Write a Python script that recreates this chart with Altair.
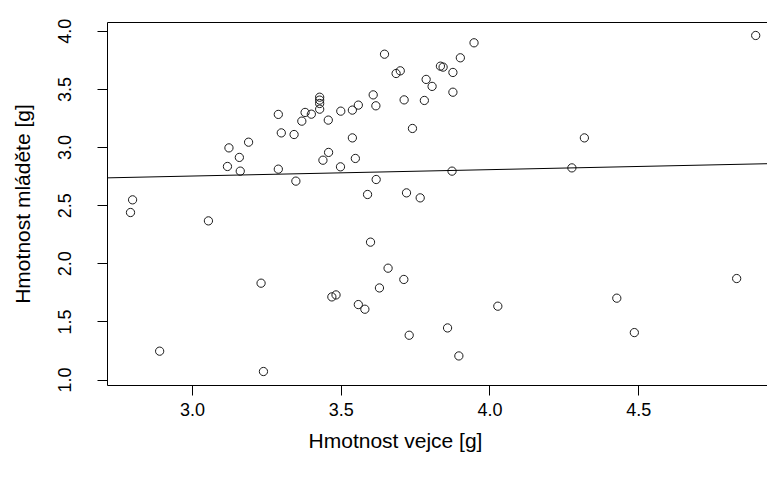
import altair as alt
import pandas as pd

# Egg weight [g] (x) and chick weight [g] (y)
egg = [2.800, 2.793, 3.055, 2.891, 3.240, 3.232, 3.124, 3.159, 3.119, 3.162,
       3.190, 3.290, 3.300, 3.343, 3.290, 3.349, 3.369, 3.380, 3.401, 3.429,
       3.429, 3.429, 3.429, 3.458, 3.440, 3.459, 3.500, 3.499, 3.539, 3.559,
       3.539, 3.549, 3.609, 3.618, 3.619, 3.590, 3.647, 3.686, 3.700, 3.713,
       3.721, 3.767, 3.741, 3.781, 3.787, 3.807, 3.835, 3.844, 3.877, 3.877,
       3.902, 3.948, 3.874, 3.600, 3.659, 3.712, 3.630, 3.470, 3.484, 3.559,
       3.581, 3.730, 3.859, 3.897, 4.028, 4.277, 4.319, 4.428, 4.487, 4.831,
       4.895]
chick = [2.546, 2.437, 2.365, 1.244, 1.069, 1.829, 2.993, 2.911, 2.833, 2.793,
         3.042, 3.281, 3.122, 3.108, 2.810, 2.707, 3.223, 3.298, 3.283, 3.429,
         3.404, 3.375, 3.326, 3.232, 2.887, 2.954, 3.309, 2.830, 3.318, 3.361,
         3.079, 2.902, 3.449, 3.355, 2.721, 2.592, 3.799, 3.633, 3.656, 3.406,
         2.606, 2.563, 3.160, 3.401, 3.582, 3.522, 3.696, 3.688, 3.642, 3.472,
         3.768, 3.897, 2.793, 2.182, 1.958, 1.861, 1.788, 1.711, 1.728, 1.645,
         1.605, 1.381, 1.444, 1.203, 1.631, 2.821, 3.079, 1.700, 1.404, 1.869,
         3.960]

x_ticks = [3.0, 3.5, 4.0, 4.5]
y_ticks = [1.0, 1.5, 2.0, 2.5, 3.0, 3.5, 4.0]
x_title = "Hmotnost vejce [g]"
y_title = "Hmotnost mláděte [g]"
x_domain = [2.714, 4.933]
y_domain = [0.953, 4.076]

df = pd.DataFrame({"egg": egg, "chick": chick})
FONT = "Liberation Sans"

xs = alt.Scale(domain=x_domain, nice=False, zero=False)
ys = alt.Scale(domain=y_domain, nice=False, zero=False)

points = alt.Chart(df).mark_point(
    shape="circle", filled=False, size=68, stroke="#1a1a1a", strokeWidth=1, opacity=1
).encode(
    x=alt.X("egg:Q", scale=xs, axis=alt.Axis(
        values=x_ticks, format=".1f", title=x_title, orient="bottom",
        grid=False, domain=True, domainColor="black", domainWidth=1,
        tickColor="black", tickSize=10, tickWidth=1,
        labelFont=FONT, labelFontSize=18, labelColor="black",
        labelBaseline="middle", labelPadding=15,
        titleFont=FONT, titleFontSize=21, titleFontWeight="normal", titleColor="black",
        titleBaseline="middle", titleAlign="center", titleX=288, titleY=56)),
    y=alt.Y("chick:Q", scale=ys, axis=alt.Axis(
        values=y_ticks, format=".1f", title=y_title, orient="left",
        grid=False, domain=True, domainColor="black", domainWidth=1,
        tickColor="black", tickSize=10, tickWidth=1,
        labelFont=FONT, labelFontSize=18, labelColor="black", labelAngle=-90,
        labelAlign="center", labelBaseline="middle", labelPadding=32,
        titleFont=FONT, titleFontSize=21, titleFontWeight="normal", titleColor="black",
        titleBaseline="middle", titleX=-84, titleAngle=-90)),
)

line = alt.Chart(df).transform_regression(
    "egg", "chick", extent=x_domain
).mark_line(color="black", strokeWidth=1, clip=True).encode(
    x=alt.X("egg:Q", scale=xs, axis=alt.Axis(
        orient="top", labels=False, ticks=False, title=None, grid=False,
        domain=True, domainColor="black", domainWidth=1)),
    y=alt.Y("chick:Q", scale=ys),
)

chart = alt.layer(points, line).resolve_axis(x="independent").properties(
    width=660, height=363,
    padding={"left": 99, "top": 14, "right": 0, "bottom": 80},
    autosize=alt.AutoSizeParams(type="none"),
    background="white",
).configure_view(stroke=None)

chart.save("out.html", embed_options={"renderer": "svg", "actions": False})
